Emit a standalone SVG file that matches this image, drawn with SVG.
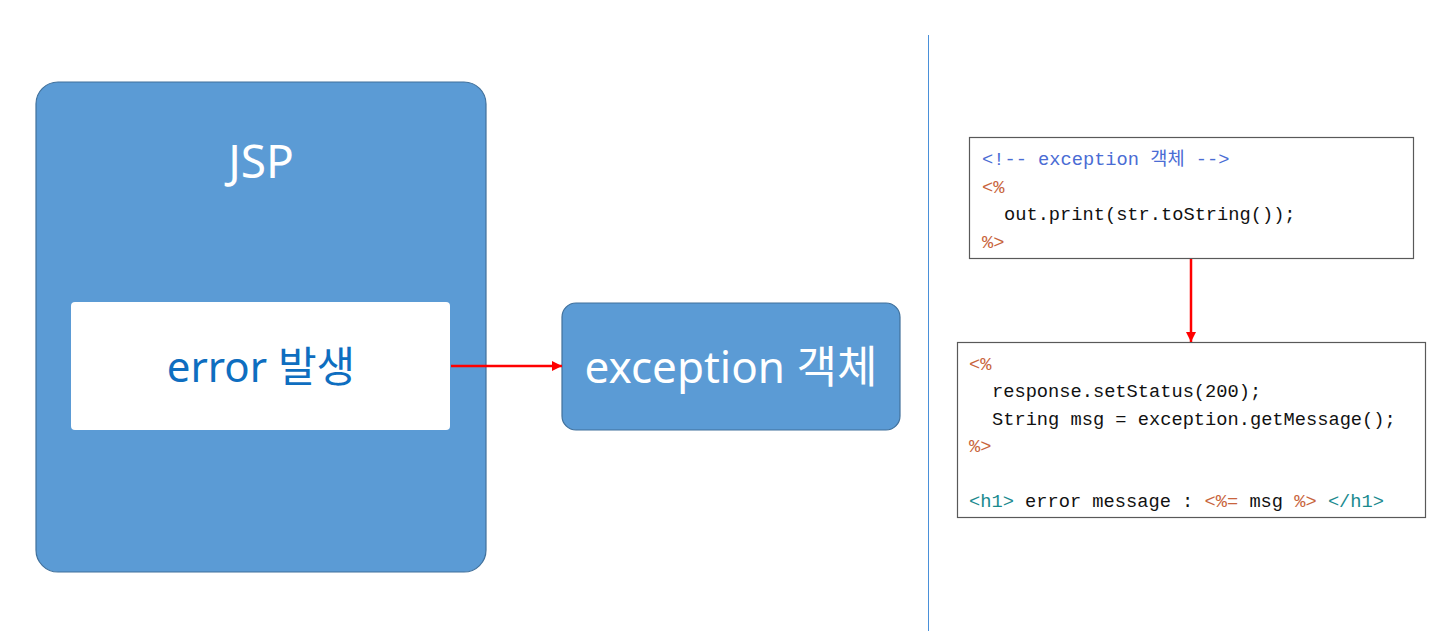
<svg xmlns="http://www.w3.org/2000/svg" width="1451" height="640" viewBox="0 0 1451 640">
<style>
.blue{fill:#5B9BD5;stroke:#41719C;stroke-width:1.2}
.title{font-family:"Noto Sans","Noto Sans CJK KR",sans-serif;fill:#ffffff;text-anchor:middle}
.code{font-family:"Liberation Mono","Noto Sans CJK KR",monospace;font-size:18.7px;fill:#111111}
.box{fill:#ffffff;stroke:#595959;stroke-width:1.2}
.cm{fill:#4A6CD4}
.tag{fill:#C8643C}
.h{fill:#1A8A8F}
.conn{stroke:#FF0000;stroke-width:2.5;fill:none}
</style>
<defs>
<marker id="ah" viewBox="0 0 10 10" refX="10" refY="5" markerWidth="4" markerHeight="4" orient="auto" markerUnits="strokeWidth">
<path d="M0,0 L10,5 L0,10 z" fill="#FF0000"/>
</marker>
</defs>
<rect width="1451" height="640" fill="#ffffff"/>
<line x1="928.5" y1="35" x2="928.5" y2="631" stroke="#4A90D9" stroke-width="1"/>
<g id="jsp">
<rect class="blue" x="36" y="82" width="450" height="490" rx="22"/>
<text class="title" x="261" y="178" font-size="46">JSP</text>
</g>
<g id="error">
<rect x="71" y="302" width="379" height="128" rx="4" fill="#ffffff"/>
<text x="261" y="382" font-size="42" font-family="Noto Sans,Noto Sans CJK KR,sans-serif" fill="#0E6EC0" text-anchor="middle">error 발생</text>
</g>
<g id="exception">
<rect class="blue" x="562" y="303" width="338" height="127" rx="14"/>
<text class="title" x="731" y="383" font-size="44">exception 객체</text>
</g>
<g id="code1">
<rect class="box" x="969.5" y="137.5" width="444" height="121"/>
<text class="code" x="982" y="165"><tspan class="cm">&lt;!-- exception 객체 --&gt;</tspan></text>
<text class="code" x="982" y="193"><tspan class="tag">&lt;%</tspan></text>
<text class="code" x="1004" y="220">out.print(str.toString());</text>
<text class="code" x="982" y="248"><tspan class="tag">%&gt;</tspan></text>
</g>
<g id="code2">
<rect class="box" x="957.5" y="342.5" width="468" height="175"/>
<text class="code" x="969" y="370"><tspan class="tag">&lt;%</tspan></text>
<text class="code" x="992" y="397">response.setStatus(200);</text>
<text class="code" x="992" y="425">String msg = exception.getMessage();</text>
<text class="code" x="969" y="452"><tspan class="tag">%&gt;</tspan></text>
<text class="code" x="969" y="507"><tspan class="h">&lt;h1&gt;</tspan> error message : <tspan class="tag">&lt;%=</tspan> msg <tspan class="tag">%&gt;</tspan> <tspan class="h">&lt;/h1&gt;</tspan></text>
</g>
<g id="connectors">
<line class="conn" x1="451" y1="366" x2="562" y2="366" marker-end="url(#ah)"/>
<line class="conn" x1="1191" y1="259" x2="1191" y2="342" marker-end="url(#ah)"/>
</g>
</svg>
